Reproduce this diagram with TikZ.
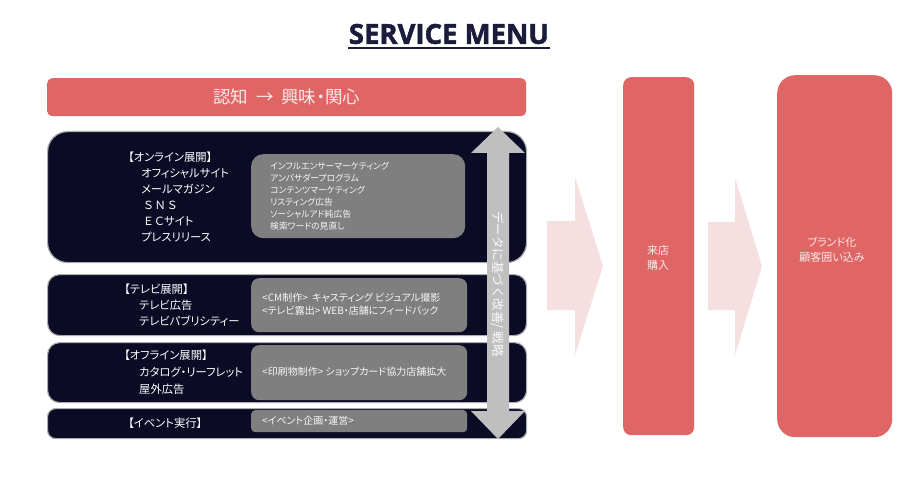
\documentclass[tikz,border=0pt]{standalone}
\usepackage{fontspec}
\setmainfont{Noto Sans CJK JP}[RawFeature=+palt]
\newfontfamily\titlefont{Open Sans}[BoldFeatures={FakeBold=1.6}]
\newfontfamily\jpplain{Noto Sans CJK JP}
\definecolor{navy}{HTML}{1B1B3C}
\definecolor{darkbg}{HTML}{0B0B26}
\definecolor{redc}{HTML}{E06666}
\definecolor{pinkc}{HTML}{F5DFE0}
\definecolor{grayin}{HTML}{7F7F7F}
\definecolor{arrgray}{HTML}{BFBFBF}
\definecolor{redtext}{HTML}{FBE9E9}
\tikzset{
  darkbox/.style={fill=darkbg, draw=gray!65, line width=1.2pt, anchor=north west, inner sep=0pt},
  graybox/.style={fill=grayin, anchor=north west, inner sep=0pt, rounded corners=8pt},
  redbox/.style={fill=redc, anchor=north west, inner sep=0pt},
  leftlabel/.style={anchor=west, align=left, inner sep=0pt, text=white, font=\fontsize{11.3}{16}\selectfont},
  graylabel/.style={anchor=west, align=left, inner sep=0pt, text=white!94!gray},
  redlabel/.style={align=center, inner sep=0pt, text=redtext, font=\fontsize{11}{15}\selectfont},
}
\begin{document}
\begin{tikzpicture}[x=1pt,y=-1pt]
\useasboundingbox (0,0) rectangle (900,500);
% title
\node[font=\titlefont\bfseries\fontsize{27.5}{30}\selectfont, text=navy, inner sep=0pt] (title) at (449,34) {SERVICE MENU};
\draw[navy, line width=2.5pt] (348,48) -- (550,48);
% top bar
\node[redbox, rounded corners=5pt, minimum width=479pt, minimum height=38pt] (topbar) at (47,78) {};
\node[text=redtext, font=\fontsize{17.5}{19}\selectfont, inner sep=0pt] (toptext) at (topbar.center) {認知\ \ →\ \ 興味・関心};
% dark boxes
\node[darkbox, rounded corners=20pt, minimum width=479pt, minimum height=131pt] (online) at (47,131) {};
\node[darkbox, rounded corners=12pt, minimum width=479pt, minimum height=61pt] (tv) at (47,274) {};
\node[darkbox, rounded corners=12pt, minimum width=479pt, minimum height=60pt] (offline) at (47,342) {};
\node[darkbox, rounded corners=8pt, minimum width=479pt, minimum height=30pt] (event) at (47,408) {};
% gray boxes
\node[graybox, rounded corners=12pt, minimum width=214pt, minimum height=84pt] (g1) at (251,154) {};
\node[graybox, minimum width=216pt, minimum height=54pt] (g2) at (251,278) {};
\node[graybox, minimum width=216pt, minimum height=55pt] (g3) at (251,345) {};
\node[graybox, rounded corners=4pt, minimum width=216pt, minimum height=22pt] (g4) at (251,410) {};
% left labels
\node[leftlabel] (l1) at (128,197) {【オンライン展開】\\\hspace{13pt}オフィシャルサイト\\\hspace{13pt}メールマガジン\\\hspace{16pt}Ｓ Ｎ Ｓ\\\hspace{16pt}Ｅ Ｃサイト\\\hspace{13pt}プレスリリース};
\node[leftlabel] (l2) at (124,305) {【テレビ展開】\\\hspace{15pt}テレビ広告\\\hspace{15pt}テレビパブリシティー};
\node[leftlabel, font=\fontsize{11.3}{17}\selectfont] (l3) at (124,372) {【オフライン展開】\\\hspace{15pt}カタログ・リーフレット\\\hspace{15pt}屋外広告};
\node[leftlabel] (l4) at (128,423) {【イベント実行】};
% gray labels
\node[graylabel, font=\fontsize{8.8}{12}\selectfont] (t1) at (270,196) {インフルエンサーマーケティング\\アンバサダープログラム\\コンテンツマーケティング\\リスティング広告\\ソーシャルアド純広告\\検索ワードの見直し};
\node[graylabel, font=\fontsize{10}{13}\selectfont] (t2) at (262,304.5) {<CM制作>\ \ キャスティング\ ビジュアル撮影\\<テレビ露出> WEB・店舗にフィードバック};
\node[graylabel, font=\fontsize{10}{13}\selectfont] (t3) at (262,372) {<印刷物制作> ショップカード協力店舗拡大};
\node[graylabel, font=\fontsize{10}{13}\selectfont] (t4) at (262,421) {<イベント企画・運営>};
% double arrow
\fill[arrgray] (498,127) -- (525,153) -- (509,153) -- (509,411) -- (525,411) -- (498,439) -- (471,411) -- (487,411) -- (487,153) -- (471,153) -- cycle;
\node[rotate=-90, text=white!96!gray, font=\jpplain\fontsize{12.5}{14}\selectfont, inner sep=0pt] (vtext) at (498,284) {データに基づく改善/ 戦略};
% pink arrows
\fill[pinkc] (547,221) -- (575,221) -- (575,177) -- (603,266) -- (575,355) -- (575,310) -- (547,310) -- cycle;
\fill[pinkc] (708,222) -- (735,222) -- (735,178) -- (762,266) -- (735,355) -- (735,310) -- (708,310) -- cycle;
% red columns
\node[redbox, rounded corners=8pt, minimum width=71pt, minimum height=358pt] (col1) at (623,77) {};
\node[redbox, rounded corners=18pt, minimum width=115pt, minimum height=362pt] (col2) at (777,75) {};
\node[redlabel] (c1t) at (658,258) {来店\\購入};
\node[redlabel] (c2t) at (832,250) {ブランド化\\顧客囲い込み};
\end{tikzpicture}
\end{document}
